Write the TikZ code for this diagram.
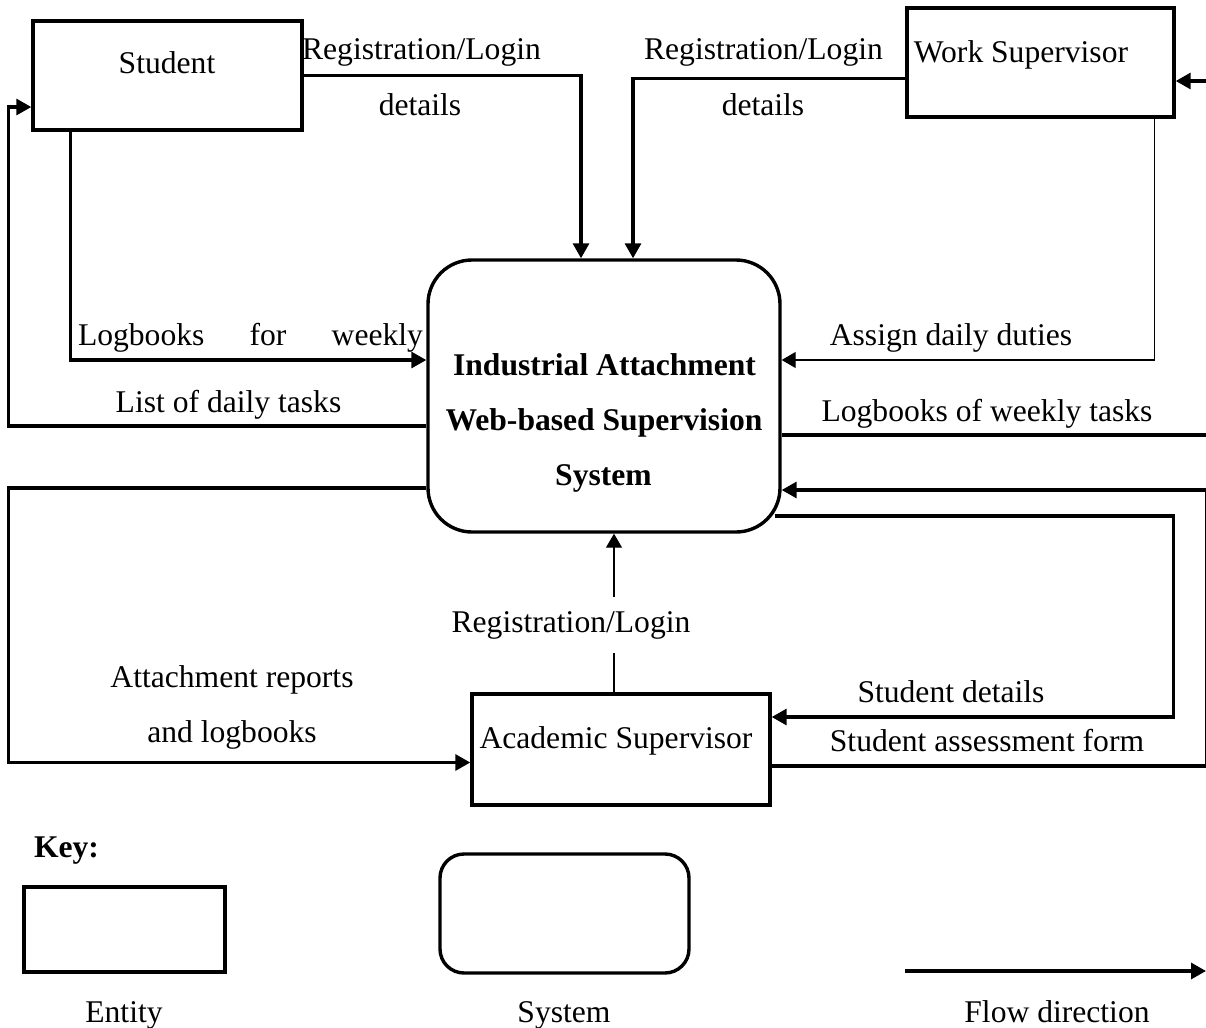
\documentclass[tikz,border=0pt]{standalone}
\usepackage{fontspec}
\setmainfont{Liberation Serif}
\usetikzlibrary{arrows.meta,calc}

\begin{document}
\begin{tikzpicture}[x=0.5pt,y=-0.5pt,
  font=\fontsize{15.8}{19}\selectfont,
  entity/.style={draw,line width=1.7pt,rectangle,inner sep=0pt},
  sysbox/.style={draw,line width=1.7pt,rectangle,rounded corners=22pt,inner sep=0pt},
  flow/.style={line width=1.6pt,-{Triangle[length=7.5pt,width=8pt]}},
  thinflow/.style={line width=0.6pt,-{Triangle[length=7pt,width=8pt]}},
  txt/.style={anchor=base,inner sep=0pt},
  bold/.style={txt,font=\fontsize{15.8}{19}\selectfont\bfseries}]

\useasboundingbox (0,0) rectangle (1206,1028);

% entities and the system
\node[entity,minimum width=134.5pt,minimum height=54.5pt] (student) at (167.5,75.5) {};
\node[entity,minimum width=133.5pt,minimum height=54.5pt] (ws) at (1040.5,62.5) {};
\node[entity,minimum width=149pt,minimum height=55.5pt] (as) at (621,749.5) {};
\node[sysbox,minimum width=176pt,minimum height=136pt] (sys) at (604,396) {};

\node[txt] (studenttxt) at (167,73) {Student};
\node[txt] (wstxt) at (1021,62) {Work Supervisor};
\node[txt] (astxt) at (616,748) {Academic Supervisor};
\node[bold] (sys1) at (604.5,375) {Industrial Attachment};
\node[bold] (sys2) at (604,430) {Web-based Supervision};
\node[bold] (sys3) at (603.5,485) {System};

% off-page ends on the right
\coordinate (wsin) at (1206,81);
\coordinate (wsout) at (1206,435);

% student <-> system
\draw[flow] (student.east) -| ($(sys.north)+(-23,0)$);
\draw[flow] ($(student.south)+(-97,0)$) |- ($(sys.west)+(0,-36)$);
\draw[flow] ($(sys.west)+(0,30)$) -| ($(student.west)+(-23,31.5)$) -- ($(student.west)+(0,31.5)$);

% work supervisor <-> system
\draw[flow] ($(ws.west)+(0,16)$) -| ($(sys.north)+(29,0)$);
\draw[flow] (wsin) -- (wsin -| ws.east);
\draw[thinflow] ($(ws.south)+(114,0)$) |- ($(sys.east)+(0,-36)$);
\draw[line width=1.6pt] ($(sys.east)+(0,39)$) -- (wsout);

% academic supervisor <-> system
\draw[flow] ($(sys.west)+(0,92)$) -| ($(as.west)+(-462,13)$) -- ($(as.west)+(0,13)$);
\draw[flow] ($(sys.east)+(-7,120)$) -| ($(as.east)+(402,-32.5)$) -- ($(as.east)+(0,-32.5)$);
\draw[flow] ($(as.east)+(0,16.5)$) -| ($(sys.east)+(425,94)$) -- ($(sys.east)+(0,94)$);
\draw[thinflow] ($(as.north)+(-7,0)$) -- ($(sys.south)+(10,0)$);

% flow labels
\node[txt] (l1a) at (421.5,60) {Registration/Login};
\node[txt] (l1b) at (420,115) {details};
\node[txt] (l2a) at (763.5,60) {Registration/Login};
\node[txt] (l2b) at (763,115) {details};
\node[txt] (l3) at (250.5,345) {\makebox[172.5pt][s]{Logbooks for weekly}};
\node[txt] (l4) at (228.5,412) {List of daily tasks};
\node[txt] (l5) at (951,345) {Assign daily duties};
\node[txt] (l6) at (987,421) {Logbooks of weekly tasks};
\node[txt] (l7a) at (232,687) {Attachment reports};
\node[txt] (l7b) at (232,742) {and logbooks};
\node[txt] (l8) at (951,702) {Student details};
\node[txt] (l9) at (987,751) {Student assessment form};
\node[txt,fill=white,inner xsep=0pt,inner ysep=7pt] (l10) at (571,632) {Registration/Login};

% key
\node[bold] (key) at (66.5,857) {Key:};
\node[entity,minimum width=100.5pt,minimum height=42.5pt] (keyent) at (124.5,929.5) {};
\node[sysbox,rounded corners=12pt,minimum width=124.5pt,minimum height=59.5pt] (keysys) at (564.5,913.5) {};
\coordinate (keyfrom) at (905,971);
\coordinate (keyto) at (1206,971);
\draw[flow] (keyfrom) -- (keyto);
\node[txt] (keyenttxt) at (124,1022) {Entity};
\node[txt] (keysystxt) at (564,1022) {System};
\node[txt] (keyflowtxt) at (1057,1022) {Flow direction};
\end{tikzpicture}
\end{document}
